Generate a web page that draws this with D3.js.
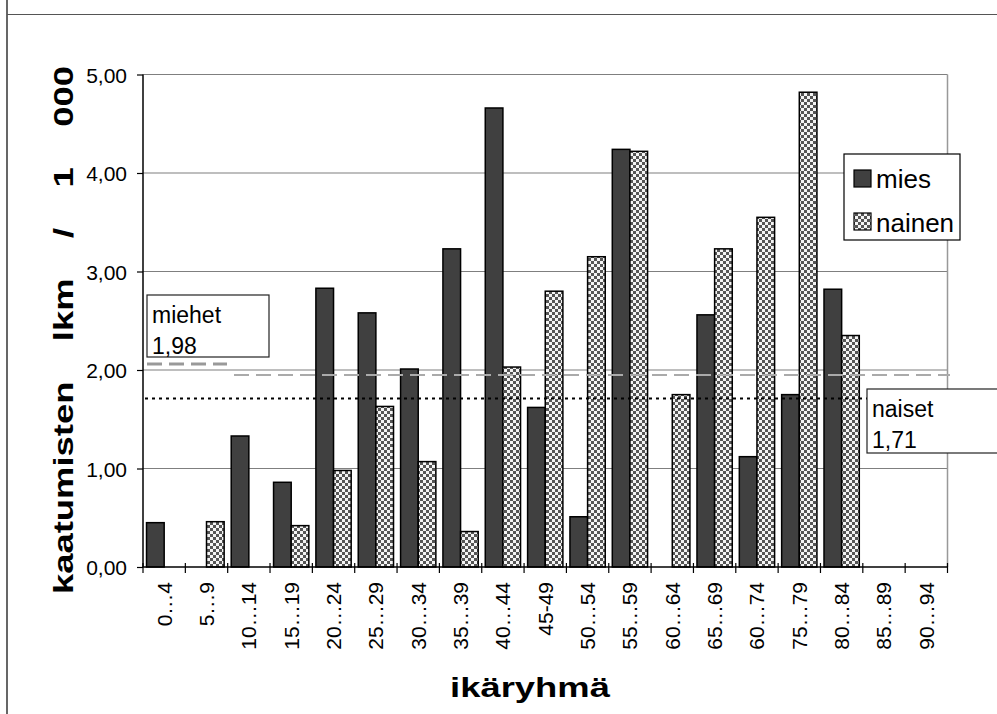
<!DOCTYPE html>
<html>
<head>
<meta charset="utf-8">
<script src="https://cdn.jsdelivr.net/npm/d3@7"></script>
<style>
  body { margin: 0; background: #fff; }
  svg { display: block; font-family: "Liberation Sans", Arial, sans-serif; }
</style>
</head>
<body>
<svg id="chart" width="997" height="714"></svg>
<script>
// ---- data ----
const categories = ["0…4","5…9","10…14","15…19","20…24","25…29","30…34","35…39","40…44","45-49",
                    "50…54","55…59","60…64","65…69","60…74","75…79","80…84","85…89","90…94"];
const seriesNames = ["mies", "nainen"];
const miesValues   = [0.45, 0, 1.33, 0.86, 2.83, 2.58, 2.01, 3.23, 4.66, 1.62, 0.51, 4.24, 0, 2.56, 1.12, 1.75, 2.82, 0, 0];
const nainenValues = [0, 0.46, 0, 0.42, 0.98, 1.63, 1.07, 0.36, 2.03, 2.80, 3.15, 4.22, 1.75, 3.23, 3.55, 4.82, 2.35, 0, 0];
const yTicks = [0, 1, 2, 3, 4, 5];
const yTickLabels = ["0,00", "1,00", "2,00", "3,00", "4,00", "5,00"];
const menAverageLabel = ["miehet", "1,98"];
const womenAverageLabel = ["naiset", "1,71"];
const menAvgLineValue = 1.95;      // long dashed grey line as drawn
const menAvgMarkerValue = 2.06;    // short dashed segment under label box
const womenAvgLineValue = 1.71;
const yTitle = "kaatumisten    lkm    /    1    000";
const xTitle = "ikäryhmä";

// ---- layout ----
const svg = d3.select("#chart");
const L = 143, R = 947.5, T = 74.5, B = 567;

const x = d3.scaleBand().domain(categories).range([L, R]).paddingInner(0).paddingOuter(0);
const x1 = d3.scaleBand().domain(seriesNames).range([0, x.bandwidth()]).paddingInner(0).paddingOuter(0.2);
const y = d3.scaleLinear().domain([0, 5]).range([B, T]);

// pattern
const defs = svg.append("defs");
const pat = defs.append("pattern").attr("id", "checker").attr("patternUnits", "userSpaceOnUse")
  .attr("width", 6).attr("height", 6);
pat.append("rect").attr("width", 6).attr("height", 6).attr("fill", "#f4f4f4");
pat.append("rect").attr("x", 0).attr("y", 0).attr("width", 3).attr("height", 3).attr("fill", "#555");
pat.append("rect").attr("x", 3).attr("y", 3).attr("width", 3).attr("height", 3).attr("fill", "#555");

// outer frame lines
svg.append("line").attr("x1", 7).attr("x2", 7).attr("y1", 0).attr("y2", 714).attr("stroke", "#000").attr("stroke-width", 1.2);
svg.append("line").attr("x1", 7).attr("x2", 997).attr("y1", 14.5).attr("y2", 14.5).attr("stroke", "#555").attr("stroke-width", 1.2);

// gridlines
svg.append("g").selectAll("line").data(yTicks.filter(d => d > 0)).join("line")
  .attr("x1", L).attr("x2", R).attr("y1", d => y(d)).attr("y2", d => y(d))
  .attr("stroke", "#7f7f7f").attr("stroke-width", 1.2);
// right plot border
svg.append("line").attr("x1", R).attr("x2", R).attr("y1", T).attr("y2", B).attr("stroke", "#999").attr("stroke-width", 1.5);

// bars
const rows = categories.map((c, i) => ({ c, vals: [miesValues[i], nainenValues[i]] }));
const g = svg.append("g");
rows.forEach(r => {
  r.vals.forEach((v, k) => {
    if (v <= 0) return;
    g.append("rect")
      .attr("x", x(r.c) + x1(seriesNames[k]))
      .attr("y", y(v))
      .attr("width", x1.bandwidth())
      .attr("height", y(0) - y(v))
      .attr("fill", k === 0 ? "#404040" : "url(#checker)")
      .attr("stroke", "#000").attr("stroke-width", 1.5);
  });
});

// average lines
svg.append("line").attr("x1", 147).attr("x2", 227).attr("y1", y(menAvgMarkerValue)).attr("y2", y(menAvgMarkerValue))
  .attr("stroke", "#999").attr("stroke-width", 3).attr("stroke-dasharray", "15,7");
svg.append("line").attr("x1", 234).attr("x2", 950).attr("y1", y(menAvgLineValue)).attr("y2", y(menAvgLineValue))
  .attr("stroke", "#aaa").attr("stroke-width", 2).attr("stroke-dasharray", "15,7");
svg.append("line").attr("x1", 145).attr("x2", 870).attr("y1", y(womenAvgLineValue)).attr("y2", y(womenAvgLineValue))
  .attr("stroke", "#000").attr("stroke-width", 2).attr("stroke-dasharray", "3,4");

// y axis
const yAxis = d3.axisLeft(y).tickValues(yTicks).tickFormat((d, i) => yTickLabels[i]).tickSize(6).tickPadding(10);
const ya = svg.append("g").attr("transform", `translate(${L},0)`).call(yAxis);
ya.select(".domain").attr("stroke", "#000").attr("stroke-width", 1.5).attr("d", `M0,${T}V${B}`);
ya.selectAll(".tick line").attr("stroke", "#000").attr("stroke-width", 1.2);
ya.selectAll("text").attr("font-size", 21).attr("fill", "#000").attr("font-family", "Liberation Sans, Arial, sans-serif").attr("dy", "0.36em");

// x axis
svg.append("line").attr("x1", L).attr("x2", R).attr("y1", B).attr("y2", B).attr("stroke", "#000").attr("stroke-width", 1.5);
const boundaries = categories.map(c => x(c)).concat([R]);
svg.append("g").selectAll("line").data(boundaries).join("line")
  .attr("x1", d => d).attr("x2", d => d).attr("y1", B - 4).attr("y2", B + 6)
  .attr("stroke", "#000").attr("stroke-width", 1.2);
svg.append("g").selectAll("text").data(categories).join("text")
  .attr("transform", d => `translate(${x(d) + x.bandwidth() / 2 + 7.5},582) rotate(-90)`)
  .attr("text-anchor", "end").attr("font-size", 21).attr("fill", "#000").text(d => d);

// titles
svg.append("text").attr("transform", "translate(73,330) rotate(-90) scale(1.3,1)")
  .attr("text-anchor", "middle").attr("font-size", 28).attr("font-weight", "bold")
  .style("white-space", "pre").text(yTitle);
svg.append("text").attr("transform", "translate(530,697) scale(1.3,1)")
  .attr("text-anchor", "middle").attr("font-size", 28).attr("font-weight", "bold").text(xTitle);

// legend
const lg = svg.append("g");
lg.append("rect").attr("x", 844).attr("y", 154).attr("width", 116).attr("height", 86)
  .attr("fill", "#fff").attr("stroke", "#000").attr("stroke-width", 1.2);
seriesNames.forEach((s, i) => {
  lg.append("rect").attr("x", 854).attr("y", 170 + i * 43).attr("width", 17).attr("height", 17)
    .attr("fill", i === 0 ? "#404040" : "url(#checker)").attr("stroke", "#000").attr("stroke-width", 1.2);
  lg.append("text").attr("x", 876).attr("y", 188 + i * 44).attr("font-size", 26).attr("fill", "#000").text(s);
});

// average label boxes
function labelBox(x0, y0, w, h, lines) {
  const b = svg.append("g");
  b.append("rect").attr("x", x0).attr("y", y0).attr("width", w).attr("height", h)
    .attr("fill", "#fff").attr("stroke", "#222").attr("stroke-width", 1.2);
  lines.forEach((t, i) => {
    b.append("text").attr("x", x0 + 5).attr("y", y0 + 28 + i * 31).attr("font-size", 23).attr("fill", "#000").text(t);
  });
}
labelBox(147, 295, 122, 62, menAverageLabel);
labelBox(867, 389, 132, 64, womenAverageLabel);
</script>
</body>
</html>
